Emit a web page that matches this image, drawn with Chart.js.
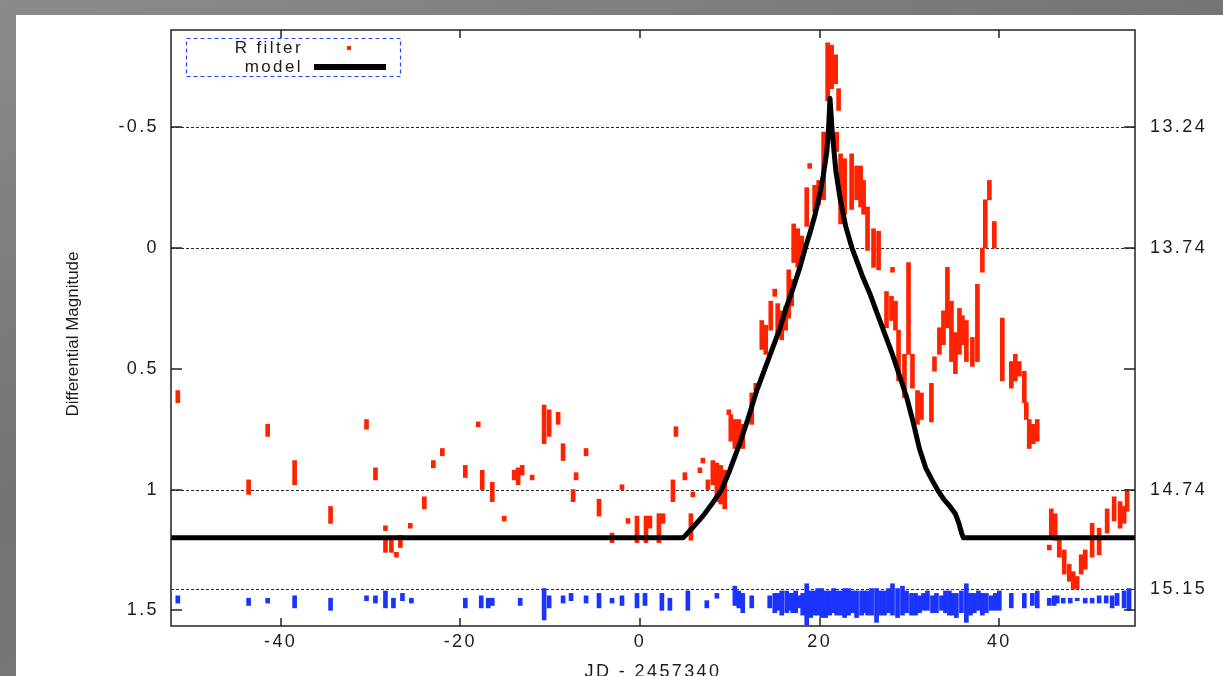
<!DOCTYPE html>
<html>
<head>
<meta charset="utf-8">
<script src="https://cdn.jsdelivr.net/npm/chart.js@4.4.0/dist/chart.umd.min.js"></script>
<style>
  html, body { margin: 0; padding: 0; width: 1223px; height: 676px; overflow: hidden; }
  body { background: linear-gradient(160deg, #8b8c89 0%, #727370 45%, #7f807c 100%); position: relative; }
  #panel { position: absolute; left: 16px; top: 15px; width: 1207px; height: 671px; background: #ffffff; }
  canvas { display: block; }
</style>
</head>
<body>
<div id="panel"><canvas id="lc" width="1207" height="671"></canvas></div>
<script>
// Axis ranges (JD - 2457340 horizontally, differential magnitude vertically, brighter up)
const xRange = [-52.2, 55.1];
const magRange = [-0.903, 1.565];

// Tick marks and labels
const xTickValues = [-40, -20, 0, 20, 40];
const leftTickValues = [-0.5, 0, 0.5, 1, 1.5];
const leftTickLabels = ['-0.5', '0', '0.5', '1', '1.5'];
const rightTickValues = [-0.5, 0, 1, 1.41];
const rightTickLabels = ['13.24', '13.74', '14.74', '15.15'];
const gridMags = [-0.5, 0, 1, 1.41];

// R filter nightly runs: [day, brightest mag, faintest mag]
const rFilter = [
  [-51.44, 0.59, 0.64], [-43.56, 0.96, 1.02], [-41.44, 0.73, 0.78], [-38.44, 0.88, 0.98],
  [-34.44, 1.07, 1.14], [-30.44, 0.71, 0.75], [-29.44, 0.91, 0.96], [-28.33, 1.15, 1.17],
  [-28.33, 1.21, 1.26], [-27.67, 1.21, 1.26], [-27.11, 1.26, 1.28], [-26.67, 1.19, 1.24],
  [-25.56, 1.14, 1.16], [-24.00, 1.03, 1.08], [-23.00, 0.88, 0.91], [-22.00, 0.83, 0.86],
  [-19.44, 0.90, 0.95], [-18.00, 0.72, 0.74], [-17.56, 0.92, 1.00], [-16.44, 0.97, 1.05],
  [-15.11, 1.11, 1.13], [-14.00, 0.92, 0.96], [-13.56, 0.91, 0.98], [-13.11, 0.90, 0.94],
  [-12.00, 0.94, 0.96], [-10.67, 0.65, 0.81], [-10.11, 0.67, 0.78], [-9.11, 0.68, 0.73],
  [-8.56, 0.81, 0.88], [-7.44, 1.00, 1.05], [-7.11, 0.93, 0.96], [-6.00, 0.83, 0.86],
  [-4.56, 1.04, 1.11], [-3.11, 1.18, 1.22], [-2.00, 0.98, 1.00], [-1.33, 1.12, 1.14],
  [-0.33, 1.11, 1.22], [0.67, 1.11, 1.22], [1.11, 1.11, 1.16], [2.11, 1.10, 1.22],
  [2.56, 1.10, 1.14], [3.67, 0.96, 1.05], [4.00, 0.74, 0.78], [5.00, 0.93, 0.96],
  [5.67, 1.10, 1.21], [5.89, 1.01, 1.03], [6.67, 0.91, 0.93], [7.00, 0.87, 0.89],
  [7.56, 0.96, 1.00], [8.11, 0.88, 0.98], [8.56, 0.89, 1.05], [9.00, 0.90, 1.06],
  [9.44, 0.92, 1.08], [9.89, 0.67, 0.69], [10.11, 0.69, 0.80], [10.56, 0.71, 0.83],
  [11.00, 0.71, 0.82], [11.44, 0.73, 0.83], [12.44, 0.60, 0.73], [12.89, 0.56, 0.59],
  [13.56, 0.30, 0.42], [14.00, 0.32, 0.44], [14.56, 0.22, 0.34], [15.00, 0.17, 0.20],
  [15.33, 0.23, 0.36], [15.78, 0.26, 0.38], [16.22, 0.24, 0.34], [16.56, 0.09, 0.29],
  [16.89, 0.13, 0.24], [17.11, -0.10, 0.06], [17.56, -0.08, 0.08], [18.00, -0.05, 0.05],
  [18.56, -0.25, -0.09], [18.89, -0.35, -0.33], [19.44, -0.26, -0.15], [19.89, -0.28, -0.18],
  [20.44, -0.48, -0.20], [20.89, -0.85, -0.61], [21.33, -0.84, -0.66], [21.78, -0.80, -0.68],
  [21.89, -0.48, -0.40], [22.11, -0.66, -0.57], [22.33, -0.39, -0.10], [22.78, -0.37, -0.14],
  [23.56, -0.39, -0.16], [24.11, -0.34, -0.20], [24.56, -0.34, -0.17], [24.89, -0.28, -0.14],
  [25.33, -0.17, 0.01], [26.00, -0.08, 0.08], [26.56, -0.07, 0.09], [27.44, 0.18, 0.33],
  [28.00, 0.20, 0.30], [28.11, 0.08, 0.10], [28.44, 0.22, 0.34], [28.78, 0.34, 0.55],
  [29.44, 0.44, 0.62], [29.89, 0.06, 0.44], [30.33, 0.44, 0.58], [30.89, 0.59, 0.73],
  [31.33, 0.60, 0.71], [32.44, 0.56, 0.72], [32.78, 0.45, 0.51], [33.33, 0.33, 0.44],
  [33.78, 0.26, 0.40], [34.22, 0.08, 0.33], [34.67, 0.22, 0.47], [35.11, 0.35, 0.52],
  [35.56, 0.25, 0.44], [35.89, 0.28, 0.40], [36.33, 0.30, 0.47], [37.00, 0.37, 0.49],
  [37.56, 0.15, 0.47], [38.11, 0.00, 0.10], [38.44, -0.20, 0.00], [38.89, -0.28, -0.20],
  [39.44, -0.11, 0.00], [40.33, 0.29, 0.55], [41.33, 0.47, 0.58], [41.78, 0.44, 0.55],
  [42.22, 0.47, 0.53], [42.78, 0.51, 0.64], [43.00, 0.64, 0.71], [43.33, 0.71, 0.83],
  [43.78, 0.73, 0.81], [44.22, 0.71, 0.80], [45.56, 1.23, 1.25], [45.78, 1.08, 1.20],
  [46.22, 1.10, 1.21], [46.67, 1.20, 1.28], [47.22, 1.25, 1.35], [47.78, 1.31, 1.38],
  [48.22, 1.34, 1.41], [48.67, 1.36, 1.41], [49.11, 1.27, 1.35], [49.56, 1.25, 1.33],
  [50.33, 1.14, 1.28], [51.11, 1.16, 1.27], [52.00, 1.08, 1.18], [52.78, 1.03, 1.13],
  [53.44, 1.05, 1.16], [53.89, 1.07, 1.14], [54.22, 1.00, 1.09]
];

// Comparison-star check runs: [day, brightest mag, faintest mag]
const checkStar = [
  [-51.44, 1.44, 1.47], [-43.56, 1.45, 1.48], [-41.44, 1.45, 1.47], [-38.44, 1.44, 1.49],
  [-34.44, 1.45, 1.50], [-30.44, 1.44, 1.46], [-29.44, 1.44, 1.47], [-28.33, 1.42, 1.49],
  [-27.44, 1.45, 1.49], [-26.44, 1.43, 1.46], [-25.44, 1.45, 1.47], [-19.44, 1.45, 1.49],
  [-17.67, 1.44, 1.49], [-16.89, 1.45, 1.49], [-16.44, 1.45, 1.48], [-13.33, 1.45, 1.48],
  [-10.67, 1.41, 1.54], [-10.11, 1.44, 1.49], [-8.56, 1.44, 1.47], [-7.67, 1.43, 1.46],
  [-6.00, 1.44, 1.47], [-4.56, 1.43, 1.49], [-3.11, 1.45, 1.47], [-2.00, 1.44, 1.48],
  [-0.33, 1.43, 1.49], [0.56, 1.43, 1.48], [2.44, 1.43, 1.50], [3.33, 1.45, 1.50],
  [5.33, 1.42, 1.50], [7.44, 1.46, 1.49], [8.56, 1.43, 1.45], [10.56, 1.40, 1.48],
  [11.00, 1.42, 1.49], [11.44, 1.43, 1.51], [12.44, 1.44, 1.49], [14.44, 1.44, 1.49],
  [15.00, 1.43, 1.51], [15.33, 1.43, 1.50], [15.78, 1.42, 1.52], [16.33, 1.42, 1.51],
  [16.67, 1.43, 1.50], [17.00, 1.43, 1.51], [17.33, 1.42, 1.51], [17.67, 1.44, 1.49],
  [18.11, 1.43, 1.52], [18.56, 1.39, 1.56], [19.00, 1.42, 1.53], [19.44, 1.42, 1.52],
  [19.78, 1.41, 1.52], [20.22, 1.41, 1.53], [20.67, 1.42, 1.53], [21.11, 1.42, 1.52],
  [21.56, 1.41, 1.51], [21.89, 1.42, 1.52], [22.33, 1.42, 1.52], [22.78, 1.41, 1.53],
  [23.22, 1.41, 1.52], [23.67, 1.42, 1.51], [24.11, 1.42, 1.53], [24.67, 1.42, 1.52],
  [25.00, 1.42, 1.51], [25.33, 1.42, 1.52], [25.78, 1.41, 1.52], [26.33, 1.41, 1.55],
  [26.78, 1.42, 1.52], [27.22, 1.42, 1.52], [27.67, 1.41, 1.51], [28.11, 1.39, 1.52],
  [28.67, 1.41, 1.53], [29.22, 1.40, 1.52], [29.67, 1.42, 1.51], [30.22, 1.43, 1.52],
  [30.67, 1.43, 1.52], [31.11, 1.44, 1.51], [31.56, 1.43, 1.50], [32.00, 1.42, 1.50],
  [32.56, 1.44, 1.51], [33.00, 1.43, 1.51], [33.56, 1.44, 1.50], [34.00, 1.42, 1.51],
  [34.44, 1.42, 1.52], [34.78, 1.43, 1.52], [35.22, 1.43, 1.53], [35.78, 1.42, 1.51],
  [36.33, 1.39, 1.55], [36.78, 1.43, 1.52], [37.22, 1.43, 1.51], [37.67, 1.42, 1.50],
  [38.11, 1.43, 1.52], [38.56, 1.43, 1.51], [39.11, 1.44, 1.50], [39.56, 1.43, 1.50],
  [40.00, 1.42, 1.50], [41.33, 1.43, 1.49], [42.78, 1.43, 1.49], [43.67, 1.43, 1.48],
  [44.22, 1.42, 1.49], [45.56, 1.45, 1.48], [46.11, 1.44, 1.48], [46.44, 1.44, 1.47],
  [47.11, 1.45, 1.47], [47.89, 1.45, 1.47], [48.67, 1.45, 1.46], [49.56, 1.45, 1.47],
  [50.33, 1.45, 1.47], [51.11, 1.44, 1.47], [51.89, 1.44, 1.47], [52.56, 1.44, 1.49],
  [53.11, 1.43, 1.48], [53.89, 1.42, 1.49], [54.44, 1.41, 1.50]
];

// Model light curve
const modelDay = [-52.2, 4.8, 5.8, 7.0, 8.0, 9.1, 10.0, 11.1, 12.0, 13.0, 14.0, 14.8, 15.6,
  16.3, 17.1, 17.8, 18.4, 18.9, 19.5, 20.0, 20.4, 20.8, 21.0, 21.15, 21.4, 21.8, 22.3,
  22.9, 23.6, 24.3, 24.8, 25.6, 26.4, 27.2, 28.1, 28.9, 29.7, 30.4, 31.1, 31.8, 32.5,
  33.1, 33.8, 34.5, 35.1, 35.5, 35.8, 36.0, 55.1];
const modelMag = [1.2, 1.2, 1.16, 1.11, 1.06, 1.0, 0.92, 0.81, 0.71, 0.59, 0.49, 0.41, 0.33,
  0.245, 0.16, 0.08, 0.0, -0.06, -0.14, -0.22, -0.30, -0.40, -0.50, -0.62, -0.48, -0.32, -0.20,
  -0.09, 0.0, 0.07, 0.12, 0.19, 0.27, 0.35, 0.44, 0.53, 0.62, 0.72, 0.83, 0.91, 0.96,
  1.0, 1.04, 1.07, 1.10, 1.14, 1.18, 1.2, 1.2];

const FONT = "'Liberation Sans', Arial, Helvetica, sans-serif";
const INK = '#1b1b1b';
const RED = '#ff2200';
const BLUE = '#1a33ff';

// Dashed grid, frame, inward ticks, legend box and rotated y title
const decorations = {
  id: 'decorations',
  beforeDraw(chart) {
    chart.ctx.letterSpacing = '2.4px';
  },
  beforeDatasetsDraw(chart) {
    const { ctx, chartArea: a, scales } = chart;
    ctx.save();
    ctx.strokeStyle = '#2a2a2a';
    ctx.lineWidth = 1;
    ctx.setLineDash([3, 2]);
    gridMags.forEach(v => {
      const y = Math.round(scales.y.getPixelForValue(v)) + 0.5;
      ctx.beginPath(); ctx.moveTo(a.left, y); ctx.lineTo(a.right, y); ctx.stroke();
    });
    ctx.restore();
  },
  afterDraw(chart) {
    const { ctx, chartArea: a, scales } = chart;
    ctx.save();
    ctx.setLineDash([]);
    ctx.strokeStyle = '#222';
    ctx.lineWidth = 1.5;
    ctx.strokeRect(a.left, a.top, a.right - a.left, a.bottom - a.top);
    ctx.beginPath();
    xTickValues.forEach(v => {
      const x = Math.round(scales.x.getPixelForValue(v));
      ctx.moveTo(x, a.bottom); ctx.lineTo(x, a.bottom - 8);
      ctx.moveTo(x, a.top); ctx.lineTo(x, a.top + 8);
    });
    leftTickValues.forEach(v => {
      const y = Math.round(scales.y.getPixelForValue(v));
      ctx.moveTo(a.left, y); ctx.lineTo(a.left + 11, y);
      ctx.moveTo(a.right, y); ctx.lineTo(a.right - 11, y);
    });
    ctx.stroke();

    // legend
    const lx = a.left + 15, ly = a.top + 8;
    ctx.strokeStyle = '#2a45ff';
    ctx.lineWidth = 1.2;
    ctx.setLineDash([4, 3]);
    ctx.strokeRect(lx + 0.5, ly + 0.5, 214, 38);
    ctx.setLineDash([]);
    ctx.font = '17px ' + FONT;
    ctx.fillStyle = INK;
    ctx.textAlign = 'right';
    ctx.textBaseline = 'middle';
    const labels = chart.data.datasets;
    ctx.fillText(labels[1].label, lx + 117, ly + 10);
    ctx.fillText(labels[0].label, lx + 117, ly + 29);
    ctx.fillStyle = RED;
    ctx.fillRect(lx + 161, ly + 8, 4, 4);
    ctx.strokeStyle = '#000';
    ctx.lineWidth = 6;
    ctx.beginPath(); ctx.moveTo(lx + 128, ly + 29); ctx.lineTo(lx + 200, ly + 29); ctx.stroke();

    // y axis title
    ctx.letterSpacing = '0px';
    ctx.translate(57, (a.top + a.bottom) / 2 + 6);
    ctx.rotate(-Math.PI / 2);
    ctx.textAlign = 'center';
    ctx.fillStyle = INK;
    ctx.font = '17px ' + FONT;
    ctx.fillText('Differential Magnitude', 0, 0);
    ctx.restore();
  }
};

const tickFont = { family: FONT, size: 18 };

// fixed axis boxes so the plot frame sits at a known place
const fixVertical = w => s => { s.width = w; s.paddingTop = 0; s.paddingBottom = 0; };
const fixHorizontal = h => s => { s.height = h; s.paddingLeft = 0; s.paddingRight = 0; };

new Chart(document.getElementById('lc'), {
  type: 'bar',
  data: {
    datasets: [
      {
        type: 'line', label: 'model',
        data: modelDay.map((d, i) => ({ x: d, y: modelMag[i] })),
        borderColor: '#000', borderWidth: 5, pointRadius: 0, tension: 0,
        borderJoinStyle: 'round', order: 0
      },
      {
        label: 'R filter',
        data: rFilter.map(r => ({ x: r[0], y: [r[1], r[2]] })),
        backgroundColor: RED, barThickness: 4, grouped: false, order: 1
      },
      {
        label: 'check star',
        data: checkStar.map(r => ({ x: r[0], y: [r[1], r[2]] })),
        backgroundColor: BLUE, barThickness: 4, grouped: false, order: 2
      }
    ]
  },
  options: {
    responsive: false,
    animation: false,
    devicePixelRatio: 1,
    layout: { padding: { top: 15, left: 0, right: 0, bottom: 0 } },
    plugins: { legend: { display: false }, tooltip: { enabled: false } },
    scales: {
      x: {
        type: 'linear', min: xRange[0], max: xRange[1], offset: false,
        grid: { display: false, drawTicks: false, offset: false }, border: { display: false },
        afterBuildTicks: s => { s.ticks = xTickValues.map(v => ({ value: v })); },
        afterFit: fixHorizontal(60),
        ticks: { autoSkip: false, maxRotation: 0, padding: 5, color: INK, font: tickFont,
                 callback: (v, i) => String(xTickValues[i]) },
        title: { display: true, text: 'JD - 2457340', color: INK, font: tickFont,
                 padding: { top: 0, bottom: 3 } }
      },
      y: {
        type: 'linear', position: 'left', reverse: true, min: magRange[0], max: magRange[1],
        grid: { display: false, drawTicks: false }, border: { display: false },
        afterBuildTicks: s => { s.ticks = leftTickValues.map(v => ({ value: v })); },
        afterFit: fixVertical(155),
        ticks: { autoSkip: false, padding: 12, color: INK, font: tickFont,
                 callback: (v, i) => leftTickLabels[i] }
      },
      y2: {
        type: 'linear', position: 'right', reverse: true, min: magRange[0], max: magRange[1],
        grid: { display: false, drawTicks: false }, border: { display: false },
        afterBuildTicks: s => { s.ticks = rightTickValues.map(v => ({ value: v })); },
        afterFit: fixVertical(88),
        ticks: { autoSkip: false, padding: 15, color: INK, font: tickFont,
                 callback: (v, i) => rightTickLabels[i] }
      }
    }
  },
  plugins: [decorations]
});
</script>
</body>
</html>
